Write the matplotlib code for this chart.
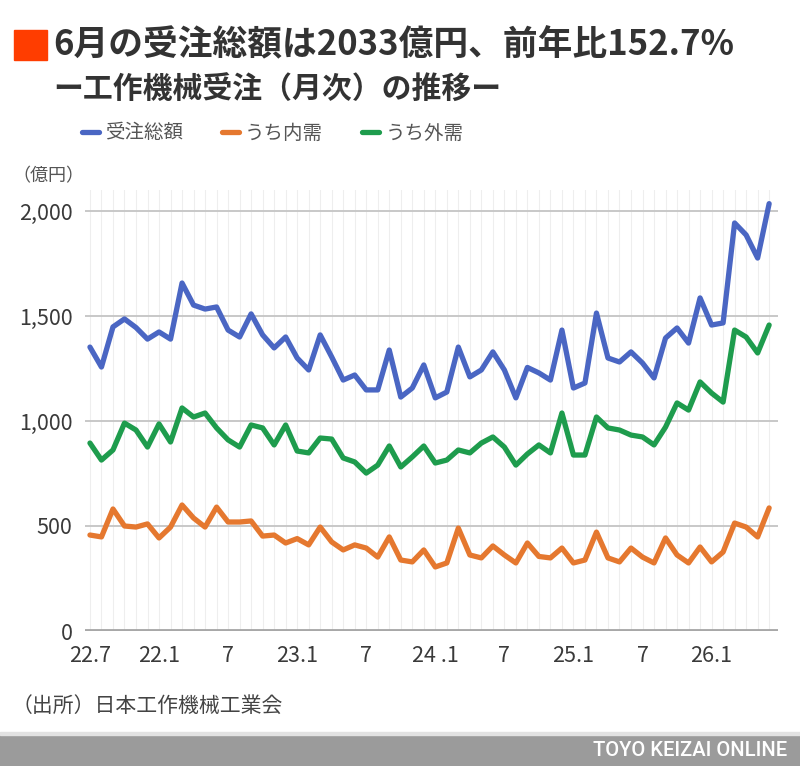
import matplotlib

matplotlib.use("Agg")

import matplotlib.pyplot as plt
from matplotlib.patches import Rectangle

plt.rcParams["font.family"] = ["Noto Sans CJK JP", "DejaVu Sans"]

# monthly values (億円), 60 months
total = [1352, 1257, 1448, 1486, 1445, 1390, 1424, 1390, 1657, 1552,
         1533, 1543, 1433, 1400, 1510, 1410, 1348, 1400, 1300, 1243,
         1410, 1305, 1195, 1219, 1148, 1148, 1338, 1114, 1157, 1267,
         1110, 1138, 1352, 1210, 1243, 1329, 1243, 1110, 1255, 1229,
         1195, 1433, 1157, 1181, 1514, 1300, 1281, 1329, 1276, 1205,
         1395, 1443, 1371, 1586, 1457, 1467, 1943, 1886, 1776, 2035]
domestic = [457, 448, 581, 500, 495, 510, 443, 495, 600, 538,
            495, 590, 519, 519, 524, 452, 457, 419, 440, 410,
            495, 424, 386, 410, 395, 352, 448, 338, 329, 386,
            305, 324, 490, 362, 348, 405, 362, 324, 419, 355,
            348, 395, 324, 338, 471, 348, 329, 395, 352, 324,
            443, 362, 324, 400, 329, 376, 514, 495, 448, 586]
overseas = [895, 814, 862, 990, 957, 876, 986, 900, 1062, 1019,
            1038, 967, 910, 876, 981, 967, 886, 981, 857, 848,
            919, 914, 824, 805, 752, 790, 881, 781, 829, 881,
            800, 814, 862, 848, 895, 924, 876, 790, 843, 886,
            848, 1038, 838, 838, 1019, 967, 957, 933, 924, 886,
            971, 1086, 1052, 1186, 1133, 1090, 1433, 1400, 1324, 1457]

tick_pos = [0, 6, 12, 18, 24, 30, 36, 42, 48, 54]
tick_labels = ["22.7", "22.1", "7", "23.1", "7", "24 .1", "7", "25.1", "7", "26.1"]
y_ticks = [0, 500, 1000, 1500, 2000]
y_labels = ["0", "500", "1,000", "1,500", "2,000"]

series = [
    ("受注総額", total, "#4a66c3"),
    ("うち内需", domestic, "#e5782f"),
    ("うち外需", overseas, "#1e9c4d"),
]

fig = plt.figure(figsize=(8, 7.66), dpi=100)
ax = fig.add_axes([85 / 800, 135 / 766, 693 / 800, 441 / 766])

x = list(range(len(total)))
for i in x:
    ax.axvline(i, color="#eeeeee", lw=0.8, zorder=0)
for v in y_ticks[1:]:
    ax.axhline(v, color="#c4c4c4", lw=1.3, zorder=1)
ax.axhline(0, color="#a8a8a8", lw=3.5, zorder=1)

lines = []
for name, vals, col in series:
    (ln,) = ax.plot(x, vals, color=col, lw=3.8, solid_joinstyle="round",
                    solid_capstyle="round", label=name, zorder=3)
    lines.append(ln)

ax.set_xlim(-0.43, 59.77)
ax.set_ylim(0, 2100)
ax.set_xticks(tick_pos)
ax.set_xticklabels(tick_labels)
ax.set_yticks(y_ticks)
ax.set_yticklabels(y_labels)
ax.tick_params(length=0, labelsize=15.5, colors="#3a3a3a")
ax.tick_params(axis="y", pad=9)
ax.tick_params(axis="x", pad=10)
for s in ax.spines.values():
    s.set_visible(False)

# title block
fig.patches.append(Rectangle((14 / 800, 1 - 60 / 766), 33 / 800, 30 / 766,
                             transform=fig.transFigure, color="#ff3d00"))
fig.text(53 / 800, 1 - 45 / 766, "6月の受注総額は2033億円、前年比152.7%",
         fontsize=25, fontweight="bold", color="#333333", va="center")
fig.text(53 / 800, 1 - 90 / 766, "ー工作機械受注（月次）の推移ー",
         fontsize=21.5, fontweight="bold", color="#333333", va="center")

fig.legend(handles=lines, loc="center left",
           bbox_to_anchor=(64 / 800, 1 - 133 / 766), ncol=3, frameon=False,
           handlelength=0.9, handletextpad=0.3, columnspacing=2.0,
           fontsize=14, labelcolor="#555555")

fig.text(12 / 800, 1 - 176 / 766, "（億円）", fontsize=13, color="#555555",
         va="center")
fig.text(12 / 800, 1 - 706 / 766, "（出所）日本工作機械工業会", fontsize=15,
         color="#444444", va="center")

# footer banner
fig.patches.append(Rectangle((0, 0), 1, 31 / 766, transform=fig.transFigure,
                             color="#9b9b9b"))
fig.patches.append(Rectangle((0, 31 / 766), 1, 3 / 766,
                             transform=fig.transFigure, color="#e2e2e2"))
fig.text(787 / 800, 15 / 766, "TOYO KEIZAI ONLINE", fontsize=14.5,
         color="white", ha="right", va="center", family="Roboto",
         fontweight="medium")

fig.savefig("out.png", dpi=100)
